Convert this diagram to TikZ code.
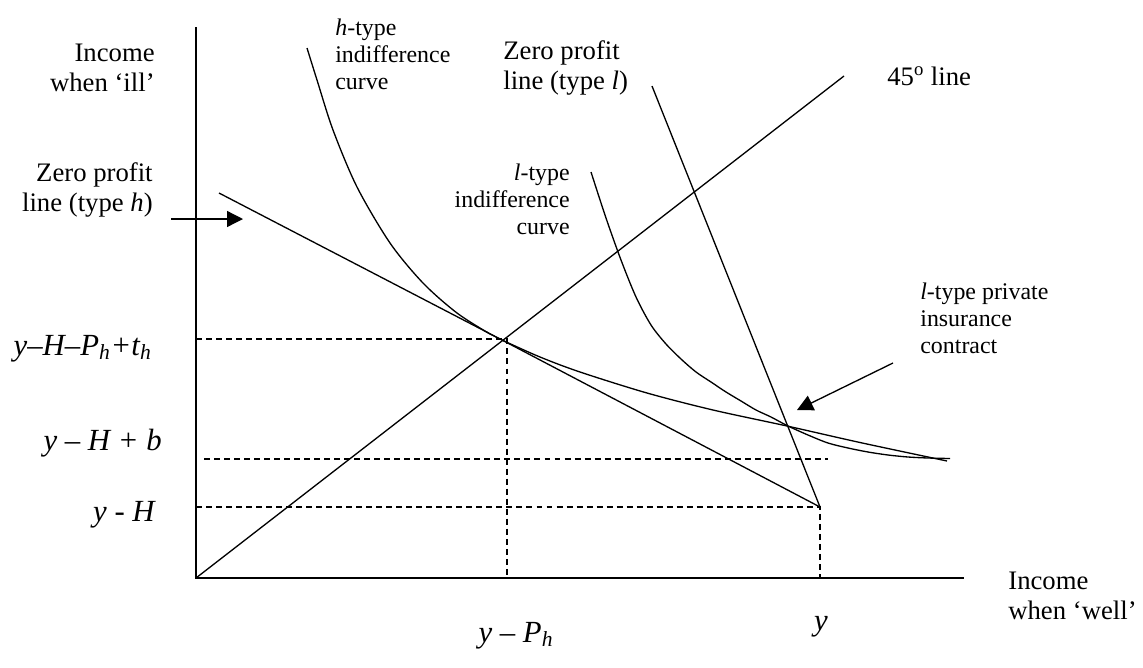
\documentclass[tikz,border=0pt]{standalone}
\usepackage{fontspec}
\setmainfont{Liberation Serif}
\usetikzlibrary{arrows.meta}
\newcommand{\bigfont}{\fontsize{15.2}{17}\selectfont}
\newcommand{\smallfont}{\fontsize{13.6}{15.4}\selectfont}
\newcommand{\symfont}{\fontsize{17.5}{20}\selectfont\itshape}
\tikzset{
  axis/.style    ={line width=1pt},
  curve/.style   ={line width=0.75pt},
  guide/.style   ={line width=0.7pt, dash pattern=on 3.4pt off 2.3pt},
  tag/.style     ={font=\bigfont, inner sep=0pt},
  smalltag/.style={font=\smallfont, inner sep=0pt},
  symtag/.style  ={font=\symfont, inner sep=0pt},
  pointer/.style ={-{Triangle[length=0.32cm,width=0.32cm]}, line width=0.75pt},
}
\begin{document}
\begin{tikzpicture}[x=0.02cm, y=-0.02cm]
  \useasboundingbox (0,0) rectangle (1143,667);
  % key points
  \coordinate (O) at (196,578);
  \coordinate (E) at (502,340);
  \coordinate (W) at (820,507);
  % axes
  \draw[axis] (196,27) -- (O) -- (964,578);
  % guide lines
  \draw[guide] (196,339) -- (507,339) -- (507,578);
  \draw[guide] (204,459) -- (828,459);
  \draw[guide] (196,507) -- (W) -- (820,578);
  % 45 degree line and the two zero profit lines
  \draw[curve] (O) -- (844,76);
  \draw[curve] (219,193) -- (E) -- (W);
  \draw[curve] (652,86) -- (W);
  % h-type indifference curve
  \draw[curve] plot[smooth] coordinates {(307,48) (317,80) (333,130) (357,187)
    (390,243) (423,283) (457,313) (490,334) (502,340) (540,357) (580,372)
    (647,393) (713,410) (787,426) (860,442.5) (947,461)};
  % l-type indifference curve
  \draw[curve] plot[smooth] coordinates {(591,172) (606,218) (621,260) (636,297)
    (651,325) (666,344) (681,359) (696,372) (711,382) (726,392) (741,401)
    (756,410) (771,417) (788,426) (808,435) (828,443) (848,448) (868,452)
    (888,455) (908,457) (928,458) (950,458.5)};
  % axis labels
  \node[tag, anchor=east, align=right] (ill) at (155,68) {Income\\when ‘ill’};
  \node[tag, anchor=west, align=left] (well) at (1008,596) {Income\\when ‘well’};
  % curve labels
  \node[tag, anchor=east, align=right] (zph) at (153,190) {Zero profit\\line (type \textit{h})};
  \node[tag, anchor=west, align=left] (zpl) at (503,68) {Zero profit\\line (type \textit{l})};
  \node[tag, anchor=west] (deg) at (887,76) {45\textsuperscript{o} line};
  \node[smalltag, anchor=west, align=left] (hic) at (335,54) {\textit{h}-type\\indifference\\curve};
  \node[smalltag, anchor=east, align=right] (lic) at (570,199) {\textit{l}-type\\indifference\\curve};
  \node[smalltag, anchor=west, align=left] (lpc) at (920,318) {\textit{l}-type private\\insurance\\contract};
  % values on the axes
  \node[symtag, anchor=base east] (v1) at (152,355) {y–H–P\textsubscript{h}+t\textsubscript{h}};
  \node[symtag, anchor=base east] (v2) at (162,450) {y – H + b};
  \node[symtag, anchor=base east] (v3) at (155,521) {y - H};
  \node[symtag, anchor=base] (v4) at (516,642) {y – P\textsubscript{h}};
  \node[symtag, anchor=base] (v5) at (821,630) {y};
  % pointers
  \coordinate (zhTail) at (171,219);
  \coordinate (zhTip) at (243,219);
  \coordinate (lpTail) at (893,363);
  \coordinate (lpTip) at (797,410);
  \draw[pointer] (zhTail) -- (zhTip);
  \draw[pointer] (lpTail) -- (lpTip);
\end{tikzpicture}
\end{document}
